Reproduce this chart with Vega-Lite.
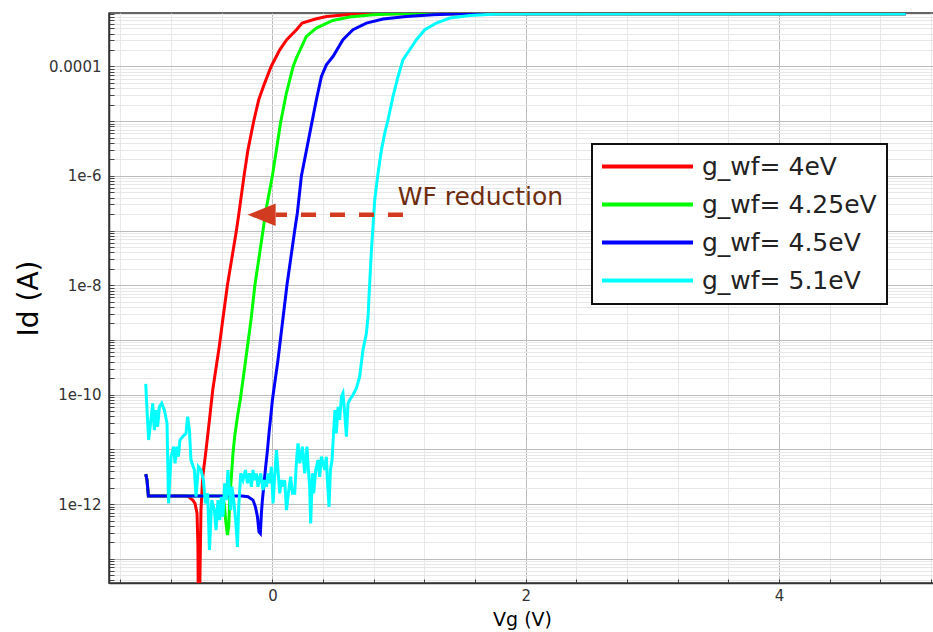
{
  "$schema": "https://vega.github.io/schema/vega-lite/v6.json",
  "width": 826,
  "height": 570,
  "autosize": {"type": "none"},
  "padding": {"left": 109, "top": 13, "right": 0, "bottom": 49},
  "background": "white",
  "config": {
    "view": {"stroke": "#333333", "strokeWidth": 1.5},
    "font": "DejaVu Sans"
  },
  "datasets": {
    "curves": [
      {"s":"g_wf= 4eV","vg":-1,"id":3.53e-12},{"s":"g_wf= 4eV","vg":-0.99,"id":2.75e-12},{"s":"g_wf= 4eV","vg":-0.979,"id":1.4e-12},{"s":"g_wf= 4eV","vg":-0.669,"id":1.4e-12},{"s":"g_wf= 4eV","vg":-0.629,"id":1.18e-12},{"s":"g_wf= 4eV","vg":-0.611,"id":1.03e-12},{"s":"g_wf= 4eV","vg":-0.595,"id":6.75e-13},{"s":"g_wf= 4eV","vg":-0.588,"id":1.77e-13},{"s":"g_wf= 4eV","vg":-0.582,"id":1e-15},{"s":"g_wf= 4eV","vg":-0.57,"id":9.4e-14},{"s":"g_wf= 4eV","vg":-0.564,"id":7.76e-13},{"s":"g_wf= 4eV","vg":-0.55,"id":3.15e-12},{"s":"g_wf= 4eV","vg":-0.524,"id":9.7e-12},{"s":"g_wf= 4eV","vg":-0.497,"id":3.44e-11},{"s":"g_wf= 4eV","vg":-0.471,"id":1.22e-10},{"s":"g_wf= 4eV","vg":-0.445,"id":3.07e-10},{"s":"g_wf= 4eV","vg":-0.42,"id":7.45e-10},{"s":"g_wf= 4eV","vg":-0.392,"id":2.32e-9},{"s":"g_wf= 4eV","vg":-0.355,"id":1.01e-8},{"s":"g_wf= 4eV","vg":-0.284,"id":1e-7},{"s":"g_wf= 4eV","vg":-0.264,"id":2.1e-7},{"s":"g_wf= 4eV","vg":-0.224,"id":1e-6},{"s":"g_wf= 4eV","vg":-0.193,"id":2.99e-6},{"s":"g_wf= 4eV","vg":-0.148,"id":9.86e-6},{"s":"g_wf= 4eV","vg":-0.108,"id":2.46e-5},{"s":"g_wf= 4eV","vg":-0.061,"id":4.97e-5},{"s":"g_wf= 4eV","vg":-0.01,"id":1e-4},{"s":"g_wf= 4eV","vg":0.058,"id":2.02e-4},{"s":"g_wf= 4eV","vg":0.113,"id":3.08e-4},{"s":"g_wf= 4eV","vg":0.19,"id":4.7e-4},{"s":"g_wf= 4eV","vg":0.235,"id":6.22e-4},{"s":"g_wf= 4eV","vg":0.347,"id":7.45e-4},{"s":"g_wf= 4eV","vg":0.429,"id":8.22e-4},{"s":"g_wf= 4eV","vg":0.666,"id":9.2e-4},{"s":"g_wf= 4eV","vg":1.163,"id":9.25e-4},{"s":"g_wf= 4eV","vg":5.0,"id":9.25e-4},
      {"s":"g_wf= 4.25eV","vg":-1,"id":3.53e-12},{"s":"g_wf= 4.25eV","vg":-0.99,"id":2.75e-12},{"s":"g_wf= 4.25eV","vg":-0.979,"id":1.4e-12},{"s":"g_wf= 4.25eV","vg":-0.4,"id":1.4e-12},{"s":"g_wf= 4.25eV","vg":-0.381,"id":1.04e-12},{"s":"g_wf= 4.25eV","vg":-0.369,"id":5.09e-13},{"s":"g_wf= 4.25eV","vg":-0.355,"id":2.7e-13},{"s":"g_wf= 4.25eV","vg":-0.345,"id":3.84e-13},{"s":"g_wf= 4.25eV","vg":-0.337,"id":1.18e-12},{"s":"g_wf= 4.25eV","vg":-0.324,"id":3.15e-12},{"s":"g_wf= 4.25eV","vg":-0.311,"id":8.55e-12},{"s":"g_wf= 4.25eV","vg":-0.298,"id":1.7e-11},{"s":"g_wf= 4.25eV","vg":-0.276,"id":3.95e-11},{"s":"g_wf= 4.25eV","vg":-0.254,"id":7.98e-11},{"s":"g_wf= 4.25eV","vg":-0.211,"id":4.31e-10},{"s":"g_wf= 4.25eV","vg":-0.168,"id":2.42e-9},{"s":"g_wf= 4.25eV","vg":-0.138,"id":1.01e-8},{"s":"g_wf= 4.25eV","vg":-0.074,"id":1e-7},{"s":"g_wf= 4.25eV","vg":-0.055,"id":2.1e-7},{"s":"g_wf= 4.25eV","vg":0.0,"id":1e-6},{"s":"g_wf= 4.25eV","vg":0.066,"id":9.86e-6},{"s":"g_wf= 4.25eV","vg":0.111,"id":3.3e-5},{"s":"g_wf= 4.25eV","vg":0.164,"id":1e-4},{"s":"g_wf= 4.25eV","vg":0.189,"id":1.42e-4},{"s":"g_wf= 4.25eV","vg":0.268,"id":3.54e-4},{"s":"g_wf= 4.25eV","vg":0.347,"id":5.04e-4},{"s":"g_wf= 4.25eV","vg":0.476,"id":6.93e-4},{"s":"g_wf= 4.25eV","vg":0.61,"id":8.01e-4},{"s":"g_wf= 4.25eV","vg":0.792,"id":8.83e-4},{"s":"g_wf= 4.25eV","vg":1.005,"id":9.2e-4},{"s":"g_wf= 4.25eV","vg":5.0,"id":9.25e-4},
      {"s":"g_wf= 4.5eV","vg":-1,"id":3.53e-12},{"s":"g_wf= 4.5eV","vg":-0.99,"id":2.75e-12},{"s":"g_wf= 4.5eV","vg":-0.979,"id":1.4e-12},{"s":"g_wf= 4.5eV","vg":-0.24,"id":1.4e-12},{"s":"g_wf= 4.5eV","vg":-0.193,"id":1.36e-12},{"s":"g_wf= 4.5eV","vg":-0.153,"id":1.18e-12},{"s":"g_wf= 4.5eV","vg":-0.134,"id":8.9e-13},{"s":"g_wf= 4.5eV","vg":-0.118,"id":5.85e-13},{"s":"g_wf= 4.5eV","vg":-0.106,"id":3.11e-13},{"s":"g_wf= 4.5eV","vg":-0.095,"id":2.9e-13},{"s":"g_wf= 4.5eV","vg":-0.087,"id":6.75e-13},{"s":"g_wf= 4.5eV","vg":-0.079,"id":1.18e-12},{"s":"g_wf= 4.5eV","vg":-0.066,"id":2.39e-12},{"s":"g_wf= 4.5eV","vg":-0.053,"id":4.81e-12},{"s":"g_wf= 4.5eV","vg":-0.039,"id":9.7e-12},{"s":"g_wf= 4.5eV","vg":-0.027,"id":1.96e-11},{"s":"g_wf= 4.5eV","vg":-0.013,"id":3.95e-11},{"s":"g_wf= 4.5eV","vg":0.0,"id":7.98e-11},{"s":"g_wf= 4.5eV","vg":0.044,"id":4.31e-10},{"s":"g_wf= 4.5eV","vg":0.115,"id":1.01e-8},{"s":"g_wf= 4.5eV","vg":0.176,"id":1e-7},{"s":"g_wf= 4.5eV","vg":0.197,"id":2.1e-7},{"s":"g_wf= 4.5eV","vg":0.229,"id":1e-6},{"s":"g_wf= 4.5eV","vg":0.308,"id":8.57e-6},{"s":"g_wf= 4.5eV","vg":0.347,"id":2.46e-5},{"s":"g_wf= 4.5eV","vg":0.387,"id":6.56e-5},{"s":"g_wf= 4.5eV","vg":0.426,"id":1.07e-4},{"s":"g_wf= 4.5eV","vg":0.478,"id":1.52e-4},{"s":"g_wf= 4.5eV","vg":0.557,"id":3.08e-4},{"s":"g_wf= 4.5eV","vg":0.636,"id":4.7e-4},{"s":"g_wf= 4.5eV","vg":0.742,"id":6.22e-4},{"s":"g_wf= 4.5eV","vg":0.873,"id":7.36e-4},{"s":"g_wf= 4.5eV","vg":1.058,"id":8.22e-4},{"s":"g_wf= 4.5eV","vg":1.268,"id":8.83e-4},{"s":"g_wf= 4.5eV","vg":1.479,"id":9.2e-4},{"s":"g_wf= 4.5eV","vg":5.0,"id":9.25e-4},
      {"s":"g_wf= 5.1eV","vg":-1,"id":1.57e-10},{"s":"g_wf= 5.1eV","vg":-0.99,"id":5.24e-11},{"s":"g_wf= 5.1eV","vg":-0.977,"id":1.48e-11},{"s":"g_wf= 5.1eV","vg":-0.959,"id":3.44e-11},{"s":"g_wf= 5.1eV","vg":-0.945,"id":6.95e-11},{"s":"g_wf= 5.1eV","vg":-0.932,"id":2.25e-11},{"s":"g_wf= 5.1eV","vg":-0.919,"id":5.24e-11},{"s":"g_wf= 5.1eV","vg":-0.906,"id":2.59e-11},{"s":"g_wf= 5.1eV","vg":-0.892,"id":6.0e-11},{"s":"g_wf= 5.1eV","vg":-0.874,"id":6.95e-11},{"s":"g_wf= 5.1eV","vg":-0.853,"id":5.24e-11},{"s":"g_wf= 5.1eV","vg":-0.832,"id":2.99e-11},{"s":"g_wf= 5.1eV","vg":-0.82,"id":1.03e-12},{"s":"g_wf= 5.1eV","vg":-0.8,"id":7.33e-12},{"s":"g_wf= 5.1eV","vg":-0.779,"id":1.12e-11},{"s":"g_wf= 5.1eV","vg":-0.769,"id":5.55e-12},{"s":"g_wf= 5.1eV","vg":-0.753,"id":1.12e-11},{"s":"g_wf= 5.1eV","vg":-0.742,"id":7.33e-12},{"s":"g_wf= 5.1eV","vg":-0.73,"id":1.48e-11},{"s":"g_wf= 5.1eV","vg":-0.708,"id":1.7e-11},{"s":"g_wf= 5.1eV","vg":-0.682,"id":1.96e-11},{"s":"g_wf= 5.1eV","vg":-0.669,"id":3.95e-11},{"s":"g_wf= 5.1eV","vg":-0.655,"id":2.25e-11},{"s":"g_wf= 5.1eV","vg":-0.643,"id":6.38e-12},{"s":"g_wf= 5.1eV","vg":-0.616,"id":4.19e-12},{"s":"g_wf= 5.1eV","vg":-0.603,"id":1.36e-12},{"s":"g_wf= 5.1eV","vg":-0.584,"id":4.81e-12},{"s":"g_wf= 5.1eV","vg":-0.564,"id":4.19e-12},{"s":"g_wf= 5.1eV","vg":-0.545,"id":2.75e-12},{"s":"g_wf= 5.1eV","vg":-0.529,"id":1.03e-12},{"s":"g_wf= 5.1eV","vg":-0.511,"id":1.57e-12},{"s":"g_wf= 5.1eV","vg":-0.497,"id":1.44e-13},{"s":"g_wf= 5.1eV","vg":-0.479,"id":1.18e-12},{"s":"g_wf= 5.1eV","vg":-0.458,"id":7.76e-13},{"s":"g_wf= 5.1eV","vg":-0.445,"id":3.34e-13},{"s":"g_wf= 5.1eV","vg":-0.43,"id":1.18e-12},{"s":"g_wf= 5.1eV","vg":-0.416,"id":5.09e-13},{"s":"g_wf= 5.1eV","vg":-0.403,"id":1.36e-12},{"s":"g_wf= 5.1eV","vg":-0.39,"id":5.85e-13},{"s":"g_wf= 5.1eV","vg":-0.377,"id":2.39e-12},{"s":"g_wf= 5.1eV","vg":-0.363,"id":1.18e-12},{"s":"g_wf= 5.1eV","vg":-0.351,"id":4.19e-12},{"s":"g_wf= 5.1eV","vg":-0.337,"id":1.57e-12},{"s":"g_wf= 5.1eV","vg":-0.329,"id":7.76e-13},{"s":"g_wf= 5.1eV","vg":-0.319,"id":2.07e-12},{"s":"g_wf= 5.1eV","vg":-0.303,"id":1.03e-12},{"s":"g_wf= 5.1eV","vg":-0.29,"id":5.09e-13},{"s":"g_wf= 5.1eV","vg":-0.276,"id":1.65e-13},{"s":"g_wf= 5.1eV","vg":-0.266,"id":8.9e-13},{"s":"g_wf= 5.1eV","vg":-0.25,"id":3.64e-12},{"s":"g_wf= 5.1eV","vg":-0.232,"id":2.75e-12},{"s":"g_wf= 5.1eV","vg":-0.213,"id":4.19e-12},{"s":"g_wf= 5.1eV","vg":-0.197,"id":2.39e-12},{"s":"g_wf= 5.1eV","vg":-0.182,"id":3.64e-12},{"s":"g_wf= 5.1eV","vg":-0.166,"id":2.07e-12},{"s":"g_wf= 5.1eV","vg":-0.153,"id":4.19e-12},{"s":"g_wf= 5.1eV","vg":-0.14,"id":2.75e-12},{"s":"g_wf= 5.1eV","vg":-0.126,"id":3.64e-12},{"s":"g_wf= 5.1eV","vg":-0.114,"id":2.07e-12},{"s":"g_wf= 5.1eV","vg":-0.092,"id":3.64e-12},{"s":"g_wf= 5.1eV","vg":-0.074,"id":1.8e-12},{"s":"g_wf= 5.1eV","vg":-0.061,"id":2.75e-12},{"s":"g_wf= 5.1eV","vg":-0.047,"id":2.07e-12},{"s":"g_wf= 5.1eV","vg":-0.035,"id":3.64e-12},{"s":"g_wf= 5.1eV","vg":-0.021,"id":2.39e-12},{"s":"g_wf= 5.1eV","vg":-0.008,"id":4.81e-12},{"s":"g_wf= 5.1eV","vg":0.005,"id":1.03e-12},{"s":"g_wf= 5.1eV","vg":0.018,"id":3.15e-12},{"s":"g_wf= 5.1eV","vg":0.032,"id":9.7e-12},{"s":"g_wf= 5.1eV","vg":0.044,"id":4.19e-12},{"s":"g_wf= 5.1eV","vg":0.058,"id":1.57e-12},{"s":"g_wf= 5.1eV","vg":0.071,"id":2.75e-12},{"s":"g_wf= 5.1eV","vg":0.084,"id":2.07e-12},{"s":"g_wf= 5.1eV","vg":0.097,"id":2.75e-12},{"s":"g_wf= 5.1eV","vg":0.111,"id":7.76e-13},{"s":"g_wf= 5.1eV","vg":0.129,"id":1.8e-12},{"s":"g_wf= 5.1eV","vg":0.144,"id":3.15e-12},{"s":"g_wf= 5.1eV","vg":0.158,"id":1.57e-12},{"s":"g_wf= 5.1eV","vg":0.176,"id":1.57e-12},{"s":"g_wf= 5.1eV","vg":0.189,"id":5.55e-12},{"s":"g_wf= 5.1eV","vg":0.202,"id":1.29e-11},{"s":"g_wf= 5.1eV","vg":0.216,"id":5.55e-12},{"s":"g_wf= 5.1eV","vg":0.237,"id":1.12e-11},{"s":"g_wf= 5.1eV","vg":0.255,"id":3.64e-12},{"s":"g_wf= 5.1eV","vg":0.273,"id":1.12e-11},{"s":"g_wf= 5.1eV","vg":0.284,"id":4.19e-12},{"s":"g_wf= 5.1eV","vg":0.294,"id":2.07e-12},{"s":"g_wf= 5.1eV","vg":0.302,"id":4.43e-13},{"s":"g_wf= 5.1eV","vg":0.316,"id":3.64e-12},{"s":"g_wf= 5.1eV","vg":0.326,"id":1.57e-12},{"s":"g_wf= 5.1eV","vg":0.342,"id":4.19e-12},{"s":"g_wf= 5.1eV","vg":0.36,"id":6.38e-12},{"s":"g_wf= 5.1eV","vg":0.373,"id":3.15e-12},{"s":"g_wf= 5.1eV","vg":0.387,"id":7.33e-12},{"s":"g_wf= 5.1eV","vg":0.4,"id":5.55e-12},{"s":"g_wf= 5.1eV","vg":0.413,"id":4.19e-12},{"s":"g_wf= 5.1eV","vg":0.426,"id":7.33e-12},{"s":"g_wf= 5.1eV","vg":0.434,"id":2.75e-12},{"s":"g_wf= 5.1eV","vg":0.447,"id":8.9e-13},{"s":"g_wf= 5.1eV","vg":0.458,"id":4.19e-12},{"s":"g_wf= 5.1eV","vg":0.471,"id":6.38e-12},{"s":"g_wf= 5.1eV","vg":0.484,"id":2.25e-11},{"s":"g_wf= 5.1eV","vg":0.494,"id":5.24e-11},{"s":"g_wf= 5.1eV","vg":0.505,"id":1.96e-11},{"s":"g_wf= 5.1eV","vg":0.518,"id":6.0e-11},{"s":"g_wf= 5.1eV","vg":0.531,"id":3.44e-11},{"s":"g_wf= 5.1eV","vg":0.545,"id":9.18e-11},{"s":"g_wf= 5.1eV","vg":0.557,"id":1.06e-10},{"s":"g_wf= 5.1eV","vg":0.571,"id":4.56e-11},{"s":"g_wf= 5.1eV","vg":0.584,"id":1.7e-11},{"s":"g_wf= 5.1eV","vg":0.597,"id":6.95e-11},{"s":"g_wf= 5.1eV","vg":0.61,"id":7.98e-11},{"s":"g_wf= 5.1eV","vg":0.636,"id":9.86e-11},{"s":"g_wf= 5.1eV","vg":0.663,"id":1.31e-10},{"s":"g_wf= 5.1eV","vg":0.689,"id":2.13e-10},{"s":"g_wf= 5.1eV","vg":0.715,"id":6.56e-10},{"s":"g_wf= 5.1eV","vg":0.742,"id":1.32e-9},{"s":"g_wf= 5.1eV","vg":0.755,"id":2.67e-9},{"s":"g_wf= 5.1eV","vg":0.768,"id":1.09e-8},{"s":"g_wf= 5.1eV","vg":0.782,"id":4.43e-8},{"s":"g_wf= 5.1eV","vg":0.794,"id":1.18e-7},{"s":"g_wf= 5.1eV","vg":0.808,"id":3.64e-7},{"s":"g_wf= 5.1eV","vg":0.834,"id":1.12e-6},{"s":"g_wf= 5.1eV","vg":0.861,"id":2.99e-6},{"s":"g_wf= 5.1eV","vg":0.887,"id":6.04e-6},{"s":"g_wf= 5.1eV","vg":0.913,"id":1.06e-5},{"s":"g_wf= 5.1eV","vg":0.952,"id":2.82e-5},{"s":"g_wf= 5.1eV","vg":0.992,"id":6.56e-5},{"s":"g_wf= 5.1eV","vg":1.031,"id":1.33e-4},{"s":"g_wf= 5.1eV","vg":1.084,"id":2.02e-4},{"s":"g_wf= 5.1eV","vg":1.137,"id":3.08e-4},{"s":"g_wf= 5.1eV","vg":1.203,"id":4.7e-4},{"s":"g_wf= 5.1eV","vg":1.295,"id":6.22e-4},{"s":"g_wf= 5.1eV","vg":1.4,"id":7.67e-4},{"s":"g_wf= 5.1eV","vg":1.558,"id":8.57e-4},{"s":"g_wf= 5.1eV","vg":1.769,"id":9.08e-4},{"s":"g_wf= 5.1eV","vg":2.032,"id":9.2e-4},{"s":"g_wf= 5.1eV","vg":5.0,"id":9.25e-4}
    ],
    "arrow": [{"vg": 1.031, "vg2": 0.026, "id": 1.94e-7}],
    "head": [{"vg": -0.085, "id": 1.94e-7}],
    "note": [{"vg": 0.989, "id": 2.95e-7, "label": "WF reduction"}]
  },
  "layer": [
    {
      "data": {"name": "curves"},
      "mark": {"type": "line", "strokeWidth": 3, "clip": true},
      "encoding": {
        "x": {
          "field": "vg", "type": "quantitative", "title": "Vg (V)",
          "scale": {"domain": [-1.29, 5.231], "nice": false, "zero": false},
          "axis": {
            "title": "Vg (V)", "titleFont": "DejaVu Sans", "titleFontSize": 19, "titleFontWeight": "normal", "titleColor": "#000000", "titlePadding": 7,
            "values": [-1.2,-1,-0.8,-0.6,-0.4,-0.2,0,0.2,0.4,0.6,0.8,1,1.2,1.4,1.6,1.8,2,2.2,2.4,2.6,2.8,3,3.2,3.4,3.6,3.8,4,4.2,4.4,4.6,4.8,5,5.2],
            "labelExpr": "abs(datum.value) < 1e-6 || abs(datum.value - 2) < 1e-6 || abs(datum.value - 4) < 1e-6 ? '' + round(datum.value) : ''",
            "labelOverlap": false, "labelBound": false, "labelFlush": false,
            "labelFont": "DejaVu Sans", "labelFontSize": 15, "labelColor": "#333333", "labelPadding": 9,
            "ticks": true, "tickSize": -4, "tickColor": "#444444",
            "grid": true,
            "gridColor": {"condition": {"test": "abs(datum.value) < 1e-6 || abs(datum.value - 2) < 1e-6 || abs(datum.value - 4) < 1e-6", "value": "#bcbcbc"}, "value": "#e8e8e8"},
            "domainColor": "#333333", "domainWidth": 1.5
          }
        },
        "y": {
          "field": "id", "type": "quantitative", "title": "Id (A)",
          "scale": {"type": "log", "domain": [3.6e-14, 9.5e-4], "nice": false},
          "axis": {
            "title": "Id (A)", "titleFont": "DejaVu Sans", "titleFontSize": 28, "titleFontWeight": "normal", "titleColor": "#000000", "titlePadding": 5,
            "values": [4e-14,5e-14,6e-14,7e-14,8e-14,9e-14,1e-13,2e-13,3e-13,4e-13,5e-13,6e-13,7e-13,8e-13,9e-13,1e-12,2e-12,3e-12,4e-12,5e-12,6e-12,7e-12,8e-12,9e-12,1e-11,2e-11,3e-11,4e-11,5e-11,6e-11,7e-11,8e-11,9e-11,1e-10,2e-10,3e-10,4e-10,5e-10,6e-10,7e-10,8e-10,9e-10,1e-9,2e-9,3e-9,4e-9,5e-9,6e-9,7e-9,8e-9,9e-9,1e-8,2e-8,3e-8,4e-8,5e-8,6e-8,7e-8,8e-8,9e-8,1e-7,2e-7,3e-7,4e-7,5e-7,6e-7,7e-7,8e-7,9e-7,1e-6,2e-6,3e-6,4e-6,5e-6,6e-6,7e-6,8e-6,9e-6,1e-5,2e-5,3e-5,4e-5,5e-5,6e-5,7e-5,8e-5,9e-5,1e-4,2e-4,3e-4,4e-4,5e-4,6e-4,7e-4,8e-4,9e-4],
            "labelExpr": "abs(log(datum.value)/LN10 - round(log(datum.value)/LN10)) < 0.01 && round(log(datum.value)/LN10) % 2 == 0 ? (round(log(datum.value)/LN10) == -4 ? '0.0001' : '1e' + round(log(datum.value)/LN10)) : ''",
            "labelOverlap": false, "labelBound": false, "labelFlush": false,
            "labelFont": "DejaVu Sans", "labelFontSize": 15, "labelColor": "#333333", "labelPadding": 13,
            "ticks": true, "tickSize": -5, "tickColor": "#444444",
            "grid": true,
            "gridColor": {"condition": {"test": "abs(log(datum.value)/LN10 - round(log(datum.value)/LN10)) < 0.01", "value": "#bcbcbc"}, "value": "#e8e8e8"},
            "domainColor": "#333333", "domainWidth": 1.5
          }
        },
        "color": {
          "field": "s", "type": "nominal",
          "scale": {"domain": ["g_wf= 4eV", "g_wf= 4.25eV", "g_wf= 4.5eV", "g_wf= 5.1eV"], "range": ["#ff0000", "#00ff00", "#0000ff", "#00ffff"]},
          "legend": {
            "title": null, "orient": "none", "legendX": 483, "legendY": 131,
            "symbolType": "stroke", "symbolSize": 8836, "symbolStrokeWidth": 4, "symbolOffset": -5,
            "clipHeight": 25, "rowPadding": 12, "padding": 10,
            "labelFont": "DejaVu Sans", "labelFontSize": 25, "labelColor": "#222222", "labelOffset": 7, "labelLimit": 400,
            "strokeColor": "#111111", "fillColor": "#ffffff",
            "encode": {"legend": {"update": {"strokeWidth": {"value": 2}}}}
          }
        }
      }
    },
    {
      "data": {"name": "arrow"},
      "mark": {"type": "rule", "color": "#d13c20", "strokeWidth": 4.5, "strokeDash": [15, 14], "strokeCap": "butt"},
      "encoding": {
        "x": {"field": "vg", "type": "quantitative", "title": "Vg (V)", "scale": {"domain": [-1.29, 5.231], "nice": false, "zero": false}},
        "x2": {"field": "vg2"},
        "y": {"field": "id", "type": "quantitative", "title": "Id (A)", "scale": {"type": "log", "domain": [3.6e-14, 9.5e-4], "nice": false}}
      }
    },
    {
      "data": {"name": "head"},
      "mark": {"type": "point", "shape": "M-1,0L1,-0.8L1,0.8Z", "size": 784, "filled": true, "color": "#d13c20", "opacity": 1, "strokeWidth": 0},
      "encoding": {
        "x": {"field": "vg", "type": "quantitative", "title": "Vg (V)", "scale": {"domain": [-1.29, 5.231], "nice": false, "zero": false}},
        "y": {"field": "id", "type": "quantitative", "title": "Id (A)", "scale": {"type": "log", "domain": [3.6e-14, 9.5e-4], "nice": false}}
      }
    },
    {
      "data": {"name": "note"},
      "mark": {"type": "text", "align": "left", "baseline": "alphabetic", "font": "DejaVu Sans", "fontSize": 25, "color": "#6e2c0e"},
      "encoding": {
        "x": {"field": "vg", "type": "quantitative", "title": "Vg (V)", "scale": {"domain": [-1.29, 5.231], "nice": false, "zero": false}},
        "y": {"field": "id", "type": "quantitative", "title": "Id (A)", "scale": {"type": "log", "domain": [3.6e-14, 9.5e-4], "nice": false}},
        "text": {"field": "label"}
      }
    }
  ]
}
